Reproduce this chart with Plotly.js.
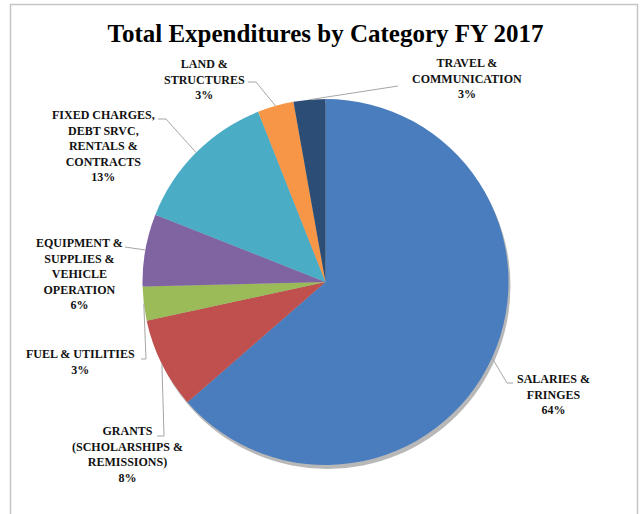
<!DOCTYPE html>
<html>
<head>
<meta charset="utf-8">
<script src="https://cdn.plot.ly/plotly-3.0.1.min.js"></script>
<style>html,body{margin:0;padding:0;background:#fff;}#chart{width:642px;height:514px;}</style>
</head>
<body>
<div id="chart"></div>
<script>
// ---- data ----
var chartTitle = "Total Expenditures by Category FY 2017";
var categories = [
  "SALARIES &\nFRINGES",
  "GRANTS\n(SCHOLARSHIPS &\nREMISSIONS)",
  "FUEL & UTILITIES",
  "EQUIPMENT &\nSUPPLIES &\nVEHICLE\nOPERATION",
  "FIXED CHARGES,\nDEBT SRVC,\nRENTALS &\nCONTRACTS",
  "LAND &\nSTRUCTURES",
  "TRAVEL &\nCOMMUNICATION"
];
var shares = [63.6, 8.0, 3.0, 6.4, 13.0, 3.2, 2.8];
var sliceColors = ["#4A7DBD", "#C0504D", "#9BBB59", "#8064A2", "#4BACC6", "#F79646", "#2C4D75"];

// ---- layout helpers (pixel geometry) ----
var W = 642, H = 514;
var CX = 325.5, CY = 282, R = 183;
var SERIF = 'Liberation Serif';
function px(x){ return x / W; }
function py(y){ return 1 - y / H; }

// label centres and leader elbows (pixels), in slice order
var labelPos = [[553, 394.5], [127, 454.5], [81, 362], [79, 274], [103, 146], [204, 79], [467, 78.5]];
var leaderPts = [
  [[513, 383], [507, 383]],
  [[157, 436], [164, 436]],
  [[141, 359], [146, 359]],
  [[125, 247]],
  [[158, 119], [166, 119]],
  [[248, 82], [256, 82]],
  [[398, 86]]
];

var total = shares.reduce(function(a, b){ return a + b; }, 0);
var annotations = [];
var shapes = [];

// frame
shapes.push({type: 'rect', xref: 'paper', yref: 'paper', x0: px(10.5), x1: px(637.5), y0: py(530), y1: py(4.5),
  line: {color: '#c6c6c6', width: 1.5}, fillcolor: 'rgba(0,0,0,0)', layer: 'below'});
// pie shadow
shapes.push({type: 'circle', xref: 'paper', yref: 'paper',
  x0: px(CX - R + 2), x1: px(CX + R + 2), y0: py(CY + R + 4), y1: py(CY - R + 4),
  line: {width: 0}, fillcolor: 'rgba(0,0,0,0.28)', layer: 'below'});

var cum = 0;
for (var i = 0; i < shares.length; i++) {
  var mid = (cum + shares[i] / 2) / total * 2 * Math.PI;
  cum += shares[i];
  var ex = CX + R * Math.sin(mid), ey = CY - R * Math.cos(mid);
  var pts = leaderPts[i].concat([[ex, ey]]);
  var path = 'M ' + px(pts[0][0]) + ',' + py(pts[0][1]);
  for (var k = 1; k < pts.length; k++) path += ' L ' + px(pts[k][0]) + ',' + py(pts[k][1]);
  shapes.push({type: 'path', xref: 'paper', yref: 'paper', path: path, line: {color: '#a6a6a6', width: 1}, layer: 'above'});
  var pct = Math.round(shares[i] / total * 100) + '%';
  annotations.push({
    xref: 'paper', yref: 'paper', x: px(labelPos[i][0]), y: py(labelPos[i][1]),
    xanchor: 'center', yanchor: 'middle', align: 'center', showarrow: false,
    text: '<b>' + categories[i].split('\n').join('<br>') + '<br>' + pct + '</b>',
    font: {family: SERIF, size: 12, color: '#111'}
  });
}

var trace = {
  type: 'pie',
  labels: categories,
  values: shares,
  sort: false,
  direction: 'clockwise',
  rotation: 0,
  textinfo: 'none',
  hoverinfo: 'none',
  showlegend: false,
  marker: {colors: sliceColors, line: {width: 0}},
  domain: {x: [px(CX - R), px(CX + R)], y: [py(CY + R), py(CY - R)]}
};

var layout = {
  width: W, height: H,
  margin: {l: 0, r: 0, t: 0, b: 0},
  paper_bgcolor: '#fff',
  font: {family: SERIF},
  showlegend: false,
  title: {
    text: '<b>' + chartTitle + '</b>',
    font: {family: SERIF, size: 25, color: '#000'},
    x: px(325.5), xanchor: 'center', xref: 'paper',
    y: py(33), yanchor: 'middle', yref: 'paper'
  },
  annotations: annotations,
  shapes: shapes
};

Plotly.newPlot('chart', [trace], layout, {displayModeBar: false, staticPlot: true});
</script>
</body>
</html>
